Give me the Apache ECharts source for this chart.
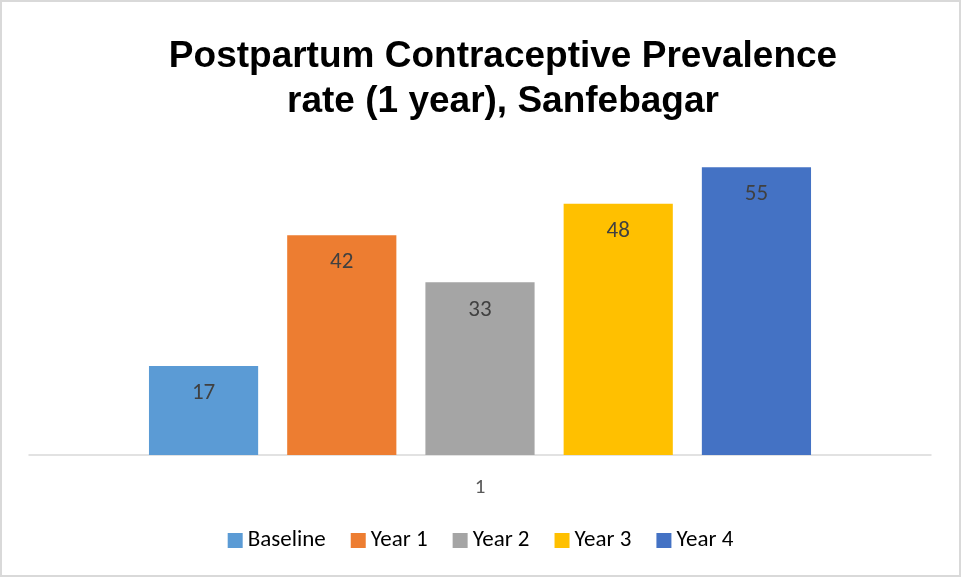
<!DOCTYPE html>
<html>
<head>
<meta charset="utf-8">
<script src="https://cdn.jsdelivr.net/npm/echarts@6/dist/echarts.min.js"></script>
<style>
  html, body { margin: 0; padding: 0; background: #fff; }
  #chart { width: 961px; height: 577px; box-sizing: border-box; border: 2px solid #d9d9d9; }
</style>
</head>
<body>
<div id="chart"></div>
<script>
// ===== 数据 =====
const categories = ['1']
const seriesNames = ['Baseline', 'Year 1', 'Year 2', 'Year 3', 'Year 4']
const seriesValues = [17, 42, 33, 48, 55]
const seriesColors = ['#5b9bd5', '#ed7d31', '#a5a5a5', '#ffc000', '#4472c4']

const labelFont = 'Carlito, "Liberation Sans Narrow", "Noto Sans", sans-serif'

const chart = echarts.init(document.getElementById('chart'))

const series = seriesNames.map((name, i) => ({
  name,
  type: 'bar',
  data: [seriesValues[i]],
  barGap: '26.6%',
  barCategoryGap: '26.6%',
  itemStyle: { color: seriesColors[i] },
  label: {
    show: true,
    position: 'insideTop',
    distance: 16,
    color: '#404040',
    fontSize: 23,
    fontFamily: labelFont,
  },
}))

chart.setOption({
  animation: false,
  title: {
    text: 'Postpartum Contraceptive Prevalence\nrate (1 year), Sanfebagar',
    left: 496,
    textAlign: 'center',
    top: 27,
    textStyle: {
      fontFamily: '"Liberation Sans", Arial, sans-serif',
      fontWeight: 'bold',
      fontSize: 37,
      lineHeight: 45,
      color: '#000',
    },
  },
  legend: {
    bottom: 18,
    left: 'center',
    itemWidth: 15,
    itemHeight: 15,
    itemGap: 25,
    icon: 'rect',
    textStyle: { fontFamily: labelFont, fontSize: 23, color: '#000' },
    data: seriesNames,
  },
  grid: { left: 27, right: 28, top: 139, bottom: 120 },
  xAxis: {
    type: 'category',
    data: categories,
    axisLine: { lineStyle: { color: '#d9d9d9', width: 1.5 } },
    axisTick: { show: false },
    axisLabel: { color: '#595959', fontSize: 21, fontFamily: labelFont, margin: 22 },
  },
  yAxis: {
    type: 'value',
    min: 0,
    max: 60,
    show: false,
    splitLine: { show: false },
  },
  series,
})
</script>
</body>
</html>
